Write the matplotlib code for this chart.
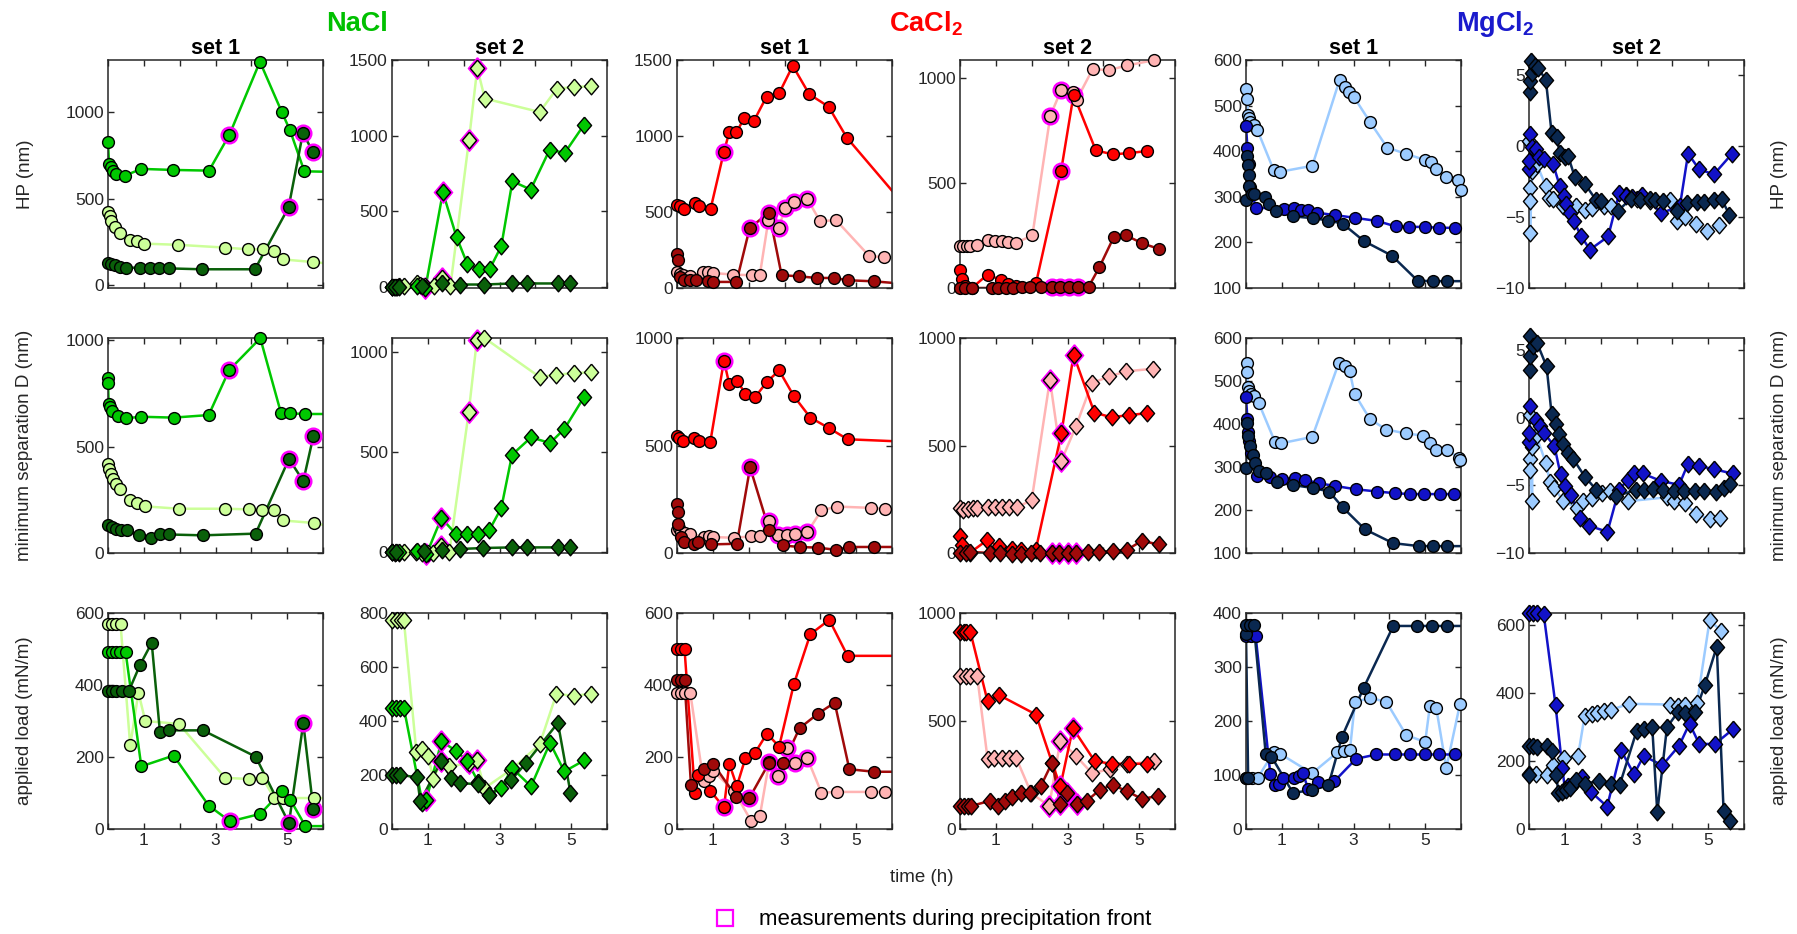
import matplotlib
matplotlib.use('Agg')
import matplotlib.pyplot as plt
from matplotlib.lines import Line2D

plt.rcParams['font.family'] = ['Liberation Sans', 'DejaVu Sans']
plt.rcParams['mathtext.fontset'] = 'custom'
plt.rcParams['mathtext.rm'] = 'Liberation Sans'
plt.rcParams['mathtext.bf'] = 'Liberation Sans:bold'

# ---------------- data: (time h, value) ----------------
# HP (nm)
hp_na1_mid = [(0,826),(0.03,700),(0.08,680),(0.14,660),(0.23,640),(0.47,633),(0.93,672),(1.8,666),(2.82,662),(3.39,870),(4.24,1290),(4.85,1000),(5.08,894),(5.48,658),(6.2,655)]
hp_na1_light = [(0,421),(0.05,400),(0.09,373),(0.19,334),(0.33,300),(0.6,260),(0.8,257),(1.0,241),(1.96,234),(3.27,218),(3.92,208),(4.32,208),(4.63,199),(4.87,150),(5.71,135),(6.2,125)]
hp_na1_dark = [(0,127),(0.09,122),(0.19,115),(0.33,108),(0.5,102),(0.89,102),(1.18,98),(1.43,98),(1.71,98),(2.61,93),(4.1,93),(5.04,450),(5.44,880),(5.71,772)]
hp_na2_mid = [(0,0),(0.05,0),(0.15,0),(0.7,5),(0.93,-10),(1.42,625),(1.8,330),(2.1,152),(2.43,119),(2.73,119),(3.05,269),(3.36,698),(3.87,643),(4.4,907),(4.82,885),(5.36,1072)]
hp_na2_light = [(0,0),(0.1,0),(0.19,4),(0.33,4),(0.7,26),(0.79,9),(0.93,4),(1.17,4),(1.4,60),(1.63,4),(2.15,974),(2.38,1447),(2.59,1245),(4.12,1156),(4.6,1310),(5.08,1322),(5.55,1326)]
hp_na2_dark = [(0,0),(0.08,0),(0.2,0),(0.85,5),(1.4,26),(1.91,15),(2.57,15),(3.36,22),(3.78,22),(4.64,22),(4.97,22)]
hp_ca1_mid = [(0,545),(0.07,538),(0.19,523),(0.49,556),(0.6,540),(0.94,523),(1.31,897),(1.46,1026),(1.66,1024),(1.88,1121),(2.15,1101),(2.5,1259),(2.85,1281),(3.23,1462),(3.69,1275),(4.23,1193),(4.74,989),(6.2,585)]
hp_ca1_light = [(0,105),(0.07,95),(0.17,84),(0.35,77),(0.73,105),(0.87,105),(1.0,99),(1.57,88),(2.08,84),(2.31,84),(2.55,446),(2.85,396),(3.01,527),(3.27,563),(3.64,585),(3.99,440),(4.44,446),(5.37,209),(5.79,204)]
hp_ca1_dark = [(0,226),(0.03,182),(0.07,75),(0.2,51),(0.35,51),(0.54,51),(0.87,44),(1.0,40),(1.66,40),(2.03,396),(2.57,495),(2.92,84),(3.4,77),(3.9,66),(4.39,66),(4.76,51),(5.49,44),(6.2,30)]
hp_ca2_mid = [(0,86),(0.05,43),(0.14,11),(0.33,0),(0.77,64),(1.14,38),(1.35,19),(1.57,11),(2.12,22),(2.82,556),(3.17,920),(3.79,655),(4.26,636),(4.73,642),(5.22,652)]
hp_ca2_light = [(0,202),(0.09,202),(0.2,198),(0.28,198),(0.47,205),(0.77,229),(0.98,223),(1.17,223),(1.35,219),(1.57,216),(2.02,250),(2.52,819),(2.82,941),(3.14,932),(3.26,897),(3.7,1041),(4.16,1037),(4.66,1059),(5.41,1084)]
hp_ca2_dark = [(0,0),(0.14,0),(0.33,0),(0.89,0),(1.07,0),(1.28,0),(1.49,0),(1.72,3),(1.94,3),(2.27,3),(2.56,3),(2.79,3),(3.03,6),(3.28,6),(3.59,6),(3.89,99),(4.29,242),(4.64,250),(5.08,213),(5.55,186)]
hp_mg1_mid = [(0,456),(0.04,407),(0.07,373),(0.11,322),(0.28,276),(1.05,274),(1.34,276),(1.53,272),(1.72,270),(1.99,265),(2.47,260),(3.03,254),(3.66,247),(4.18,235),(4.56,234),(4.99,234),(5.39,232),(5.84,232)]
hp_mg1_light = [(0.01,537),(0.04,515),(0.05,480),(0.08,473),(0.11,465),(0.21,458),(0.32,446),(0.77,359),(0.96,355),(1.85,368),(2.61,556),(2.75,541),(2.88,530),(3.01,519),(3.47,463),(3.94,408),(4.47,394),(4.99,381),(5.15,376),(5.3,362),(5.59,344),(5.93,337),(6.0,316)]
hp_mg1_dark = [(0,294),(0.02,390),(0.05,370),(0.07,348),(0.09,323),(0.16,307),(0.21,307),(0.54,300),(0.65,285),(0.85,269),(1.32,257),(1.88,253),(2.3,248),(2.7,241),(3.29,203),(4.07,171),(4.79,116),(5.22,115),(5.62,115),(6.2,115)]
hp_mg2_mid = [(0.0,-1.65),(0.0,-1.06),(0.02,0.83),(0.07,-0.1),(0.19,-0.24),(0.28,-0.78),(0.41,-0.9),(0.67,-1.25),(0.86,-2.83),(0.97,-3.54),(1.04,-4.08),(1.14,-4.72),(1.25,-5.3),(1.46,-6.37),(1.7,-7.3),(2.21,-6.37),(2.52,-3.3),(2.71,-3.5),(2.87,-3.6),(3.16,-3.42),(3.69,-4.72),(4.21,-4.25),(4.44,-0.54),(4.75,-1.65),(5.16,-2.0),(5.67,-0.54)]
hp_mg2_light = [(0.0,0.35),(0.02,-2.95),(0.02,-3.9),(0.03,-6.13),(0.09,-1.77),(0.22,-1.3),(0.47,-2.83),(0.56,-3.66),(0.67,-3.77),(0.95,-4.25),(1.32,-4.25),(1.56,-4.48),(1.75,-4.36),(2.09,-4.25),(2.3,-4.25),(2.72,-3.42),(3.0,-3.77),(3.37,-3.9),(3.94,-3.84),(4.12,-5.3),(4.35,-5.02),(4.66,-5.5),(4.98,-6.01),(5.31,-5.54)]
hp_mg2_dark = [(0.02,3.77),(0.02,4.6),(0.05,6.0),(0.09,5.1),(0.16,5.66),(0.25,5.5),(0.47,4.65),(0.63,0.94),(0.77,0.6),(0.86,-0.47),(1.0,-0.8),(1.09,-0.7),(1.28,-2.2),(1.56,-2.67),(1.88,-3.84),(2.02,-3.9),(2.49,-4.55),(2.85,-3.7),(3.1,-3.8),(3.38,-3.7),(3.52,-3.8),(3.75,-3.9),(4.12,-4.55),(4.42,-4.0),(4.68,-3.96),(4.88,-3.96),(5.16,-3.8),(5.38,-3.77),(5.59,-4.83)]

# minimum separation D (nm)
dmin_na1_mid = [(0,822),(0.0,800),(0.02,700),(0.05,684),(0.1,665),(0.27,645),(0.49,633),(0.93,640),(1.83,636),(2.81,648),(3.38,859),(4.25,1009),(4.83,656),(5.07,656),(5.51,653),(6.2,653)]
dmin_na1_light = [(0,419),(0.03,395),(0.08,372),(0.14,348),(0.22,325),(0.33,302),(0.6,247),(0.82,234),(1.04,219),(1.98,208),(3.27,208),(3.93,205),(4.31,200),(4.64,200),(4.87,153),(5.75,141),(6.2,125)]
dmin_na1_dark = [(0,130),(0.11,122),(0.22,114),(0.36,109),(0.52,106),(0.87,83),(1.2,72),(1.45,87),(1.69,87),(2.65,83),(4.12,91),(5.05,442),(5.45,338),(5.73,548)]
dmin_na2_mid = [(0,0),(0.1,0),(0.2,0),(0.7,5),(0.96,-10),(1.38,172),(1.78,92),(2.09,92),(2.41,92),(2.72,113),(3.05,222),(3.35,488),(3.88,575),(4.41,547),(4.81,617),(5.36,777)]
dmin_na2_light = [(0,0),(0.08,-3),(0.19,-3),(0.33,0),(0.68,0),(0.85,-3),(1.01,-3),(1.15,-3),(1.38,30),(1.6,0),(2.14,700),(2.37,1063),(2.58,1072),(4.12,877),(4.59,888),(5.07,897),(5.55,900)]
dmin_na2_dark = [(0,0),(0.1,0),(0.9,5),(1.4,10),(1.89,17),(2.55,22),(3.36,25),(3.77,25),(4.63,25),(4.98,25)]
dmin_ca1_mid = [(0,542),(0.05,537),(0.18,522),(0.48,537),(0.62,519),(0.93,517),(1.31,895),(1.46,784),(1.67,802),(1.91,741),(2.18,725),(2.51,796),(2.85,849),(3.26,730),(3.72,630),(4.25,580),(4.76,529),(6.2,519)]
dmin_ca1_light = [(0,105),(0.05,117),(0.1,97),(0.21,93),(0.37,90),(0.74,74),(0.9,77),(1.01,74),(1.59,71),(2.07,77),(2.31,79),(2.57,151),(2.83,85),(3.06,86),(3.29,90),(3.64,97),(4.03,198),(4.46,216),(5.41,210),(5.81,205)]
dmin_ca1_dark = [(0,228),(0.02,190),(0.02,136),(0.1,74),(0.19,51),(0.48,43),(0.58,51),(0.96,40),(1.67,43),(2.04,398),(2.57,108),(2.95,35),(3.42,28),(3.93,25),(4.43,15),(4.81,28),(5.5,28),(6.2,28)]
dmin_ca2_mid = [(0,78),(0.05,36),(0.27,0),(0.75,59),(1.1,31),(1.44,20),(1.71,15),(2.11,12),(2.83,557),(3.17,922),(3.75,653),(4.23,631),(4.73,642),(5.21,650)]
dmin_ca2_light = [(0,207),(0.09,200),(0.21,203),(0.37,207),(0.48,211),(0.78,215),(0.99,215),(1.17,215),(1.37,215),(1.58,212),(2.0,246),(2.51,806),(2.83,429),(3.24,591),(3.68,790),(4.16,821),(4.64,845),(5.39,857)]
dmin_ca2_dark = [(0,0),(0.16,0),(0.27,5),(0.85,0),(1.12,0),(1.44,-3),(1.71,-3),(1.97,0),(2.22,0),(2.56,0),(2.77,0),(3.01,0),(3.25,0),(3.57,5),(3.89,5),(4.26,9),(4.67,16),(5.07,56),(5.55,40)]
dmin_mg1_mid = [(0,462),(0.04,411),(0.05,381),(0.08,360),(0.13,333),(0.3,280),(0.68,277),(1.0,272),(1.36,274),(1.66,270),(2.04,262),(2.48,256),(3.08,248),(3.66,243),(4.17,239),(4.58,237),(4.98,237),(5.41,237),(5.81,237)]
dmin_mg1_light = [(0.02,542),(0.04,520),(0.05,485),(0.08,477),(0.13,470),(0.22,464),(0.35,450),(0.81,358),(0.97,355),(1.85,370),(2.59,542),(2.75,534),(2.89,524),(3.03,470),(3.46,411),(3.92,387),(4.47,378),(4.94,373),(5.14,356),(5.29,340),(5.6,340),(5.95,321),(5.98,316)]
dmin_mg1_dark = [(0,298),(0.02,403),(0.05,372),(0.11,348),(0.19,329),(0.24,309),(0.35,290),(0.57,286),(0.87,264),(1.31,258),(1.88,251),(2.32,243),(2.7,206),(3.32,155),(4.1,123),(4.83,116),(5.22,116),(5.6,116),(6.2,116)]
dmin_mg2_mid = [(0.0,-1.8),(0.0,-1.09),(0.03,0.85),(0.2,-0.17),(0.31,-0.6),(0.41,-1.09),(0.71,-2.1),(0.88,-4.19),(1.01,-5.08),(1.17,-5.69),(1.42,-7.38),(1.68,-7.99),(2.19,-8.43),(2.51,-5.33),(2.75,-4.6),(2.92,-4.12),(3.17,-4.12),(3.68,-4.67),(4.19,-4.96),(4.44,-3.39),(4.74,-3.56),(5.15,-3.8),(5.68,-4.12)]
dmin_mg2_light = [(0.03,0.24),(0.03,-3.03),(0.03,-3.87),(0.09,-6.17),(0.09,-2.18),(0.2,-1.33),(0.47,-3.32),(0.58,-4.72),(0.71,-5.2),(0.96,-6.17),(1.34,-6.66),(1.5,-6.17),(1.77,-5.93),(2.05,-5.57),(2.27,-5.45),(2.76,-6.17),(3.85,-5.88),(4.06,-6.17),(4.34,-6.3),(4.66,-7.09),(5.04,-7.5),(5.32,-7.38)]
dmin_mg2_dark = [(0.03,3.5),(0.03,4.6),(0.03,6.05),(0.12,5.3),(0.23,5.5),(0.49,3.8),(0.63,0.31),(0.74,-0.48),(0.85,-1.21),(0.96,-1.94),(1.1,-2.59),(1.23,-3.03),(1.56,-4.36),(1.88,-5.33),(2.43,-5.81),(2.98,-5.33),(3.2,-5.33),(3.47,-5.25),(3.74,-5.33),(4.06,-5.45),(4.33,-5.4),(4.63,-5.45),(4.88,-5.45),(5.21,-5.5),(5.43,-5.16),(5.61,-4.92)]

# applied load (mN/m)
load_na1_mid = [(0,492),(0.11,492),(0.22,492),(0.33,492),(0.49,492),(0.93,174),(1.83,204),(2.81,65),(3.41,21),(4.25,42),(4.85,105),(5.09,81),(5.51,8),(6.2,8)]
load_na1_light = [(0,569),(0.11,569),(0.22,569),(0.35,569),(0.62,232),(0.85,379),(1.04,300),(1.98,292),(3.27,142),(3.93,139),(4.31,142),(4.64,86),(4.87,86),(5.75,86),(6.2,86)]
load_na1_dark = [(0,383),(0.11,383),(0.22,383),(0.38,383),(0.58,383),(0.89,455),(1.22,517),(1.45,269),(1.69,274),(2.65,274),(4.12,201),(5.05,16),(5.45,294),(5.73,56)]
load_na2_mid = [(0,449),(0.11,449),(0.22,449),(0.33,449),(0.85,96),(0.96,108),(1.38,325),(1.78,290),(2.09,253),(2.41,174),(2.72,127),(3.05,151),(3.35,226),(3.88,158),(4.41,319),(4.81,213),(5.36,254)]
load_na2_light = [(0,775),(0.13,775),(0.24,775),(0.33,775),(0.68,286),(0.85,295),(1.01,270),(1.15,186),(1.38,251),(1.6,232),(2.14,244),(2.37,254),(2.58,151),(3.33,220),(4.12,313),(4.59,501),(5.07,493),(5.55,501)]
load_na2_dark = [(0,201),(0.11,201),(0.22,201),(0.7,191),(0.79,102),(1.37,251),(1.65,189),(1.89,170),(2.39,166),(2.72,127),(3.33,182),(3.74,244),(4.63,393),(4.98,135)]
load_ca1_mid = [(0,499),(0.11,499),(0.21,499),(0.5,101),(0.58,150),(0.93,106),(1.31,60),(1.46,181),(1.67,119),(1.91,197),(2.18,212),(2.51,265),(2.85,229),(3.26,402),(3.72,541),(4.25,581),(4.76,481),(6.2,481)]
load_ca1_light = [(0,378),(0.11,378),(0.21,378),(0.37,378),(0.74,132),(0.9,146),(1.01,161),(1.59,106),(2.07,22),(2.31,35),(2.57,185),(2.83,148),(3.06,225),(3.29,184),(3.64,196),(4.03,101),(4.46,103),(5.41,103),(5.81,103)]
load_ca1_dark = [(0,413),(0.11,413),(0.21,413),(0.39,122),(0.74,168),(1.01,181),(1.65,90),(2.02,86),(2.57,184),(2.97,184),(3.42,280),(3.93,320),(4.4,351),(4.81,166),(5.5,159),(6.2,159)]
load_ca2_mid = [(0,912),(0.1,912),(0.18,912),(0.29,912),(0.77,591),(1.09,620),(2.12,530),(2.57,307),(2.8,197),(3.15,467),(3.76,314),(4.23,302),(4.71,302),(5.21,302)]
load_ca2_light = [(0,708),(0.16,708),(0.29,708),(0.48,708),(0.77,324),(0.95,328),(1.16,328),(1.38,328),(1.57,328),(1.99,165),(2.49,107),(2.8,409),(3.23,340),(3.68,258),(4.18,277),(4.66,299),(5.4,314)]
load_ca2_dark = [(0,107),(0.1,107),(0.21,107),(0.32,107),(0.85,131),(1.06,107),(1.25,131),(1.45,150),(1.69,168),(1.96,165),(2.25,197),(2.57,307),(2.8,117),(2.99,165),(3.27,117),(3.54,131),(3.91,182),(4.26,204),(4.66,175),(5.08,139),(5.52,153)]
load_mg1_mid = [(0,357),(0.14,357),(0.27,357),(0.68,101),(0.82,81),(0.93,84),(1.04,94),(1.35,94),(1.48,99),(1.59,103),(1.73,75),(2.02,87),(2.46,88),(3.07,130),(3.64,138),(4.16,138),(4.57,138),(5.0,138),(5.39,138),(5.83,138)]
load_mg1_light = [(0,95),(0.16,95),(0.33,95),(0.77,142),(0.96,139),(1.84,103),(2.55,142),(2.74,145),(2.9,146),(3.04,235),(3.47,243),(3.92,235),(4.47,174),(5.0,161),(5.13,227),(5.31,224),(5.59,113),(5.97,231)]
load_mg1_dark = [(0,95),(0.06,95),(0.0,362),(0.0,377),(0.11,377),(0.22,377),(0.55,139),(0.71,134),(1.31,67),(1.84,72),(2.3,81),(2.68,171),(3.28,261),(4.11,376),(4.78,376),(5.18,376),(5.62,376),(6.2,376)]
load_mg2_mid = [(0,635),(0.11,635),(0.22,635),(0.41,632),(0.74,364),(0.93,180),(1.0,119),(1.1,125),(1.2,130),(1.3,140),(1.48,152),(1.72,110),(2.18,66),(2.57,231),(2.93,161),(3.2,215),(3.72,187),(4.19,245),(4.48,310),(4.75,250),(5.19,250),(5.7,294)]
load_mg2_light = [(0,161),(0.2,161),(0.49,159),(0.68,187),(0.98,210),(1.37,215),(1.55,331),(1.75,338),(1.91,342),(2.1,346),(2.29,350),(2.78,368),(3.93,366),(4.15,362),(4.36,364),(4.69,371),(5.04,613),(5.37,582)]
load_mg2_dark = [(0,160),(0.0,243),(0.1,243),(0.22,240),(0.49,243),(0.65,228),(0.76,160),(0.82,107),(0.93,110),(1.04,115),(1.15,120),(1.31,143),(1.55,133),(1.94,141),(2.29,131),(2.53,129),(3.0,287),(3.22,294),(3.44,299),(3.58,49),(3.85,299),(4.15,343),(4.36,340),(4.64,343),(4.91,424),(5.24,536),(5.43,54),(5.62,23)]

# indices of measurements during precipitation front
front = {
    'hp_na1_mid': [9], 'hp_na1_dark': [11, 12, 13],
    'hp_na2_mid': [4, 5], 'hp_na2_light': [8, 10, 11],
    'hp_ca1_mid': [6], 'hp_ca1_light': [10, 11, 12, 13, 14], 'hp_ca1_dark': [9, 10],
    'hp_ca2_mid': [9, 10], 'hp_ca2_light': [11, 12], 'hp_ca2_dark': [10, 11, 12, 13],
    'dmin_na1_mid': [10], 'dmin_na1_dark': [11, 12, 13],
    'dmin_na2_mid': [4, 5], 'dmin_na2_light': [8, 10, 11],
    'dmin_ca1_mid': [6], 'dmin_ca1_light': [11, 12, 13, 14, 15], 'dmin_ca1_dark': [9],
    'dmin_ca2_mid': [8, 9], 'dmin_ca2_light': [11, 12], 'dmin_ca2_dark': [9, 10, 11, 12],
    'load_na1_mid': [8], 'load_na1_dark': [11, 12, 13],
    'load_na2_mid': [5, 6, 8], 'load_na2_light': [8, 10, 11],
    'load_ca1_mid': [6], 'load_ca1_light': [10, 11, 12, 13, 14], 'load_ca1_dark': [7],
    'load_ca2_mid': [8, 9], 'load_ca2_light': [10, 11], 'load_ca2_dark': [12, 13, 14],
}

quantities = ['hp', 'dmin', 'load']
salts = ['na', 'ca', 'mg']
ylabels = ['HP (nm)', 'minimum separation D (nm)', 'applied load (mN/m)']
salt_names = ['NaCl', r'CaCl$_\mathbf{2}$', r'MgCl$_\mathbf{2}$']
salt_colors = ['#00C000', '#FF0000', '#1A1ACC']
shades = {
    'na': {'mid': '#00C800', 'light': '#CCFF99', 'dark': '#0A600A'},
    'ca': {'mid': '#FF0000', 'light': '#FFB4B4', 'dark': '#A00A0A'},
    'mg': {'mid': '#1212C8', 'light': '#9CCBFF', 'dark': '#0A2850'},
}
ylims = [
    [(-15, 1300), (-8, 1500), (0, 1500), (0, 1085), (100, 600), (-10, 6.05)],
    [(0, 1010), (-3, 1072), (0, 1000), (0, 1000), (100, 600), (-10, 5.9)],
    [(0, 600), (0, 800), (0, 600), (0, 1000), (0, 400), (0, 635)],
]
yticks = [
    [[0, 500, 1000], [0, 500, 1000, 1500], [0, 500, 1000, 1500], [0, 500, 1000], range(100, 601, 100), [-10, -5, 0, 5]],
    [[0, 500, 1000], [0, 500, 1000], [0, 500, 1000], [0, 500, 1000], range(100, 601, 100), [-10, -5, 0, 5]],
    [range(0, 601, 200), range(0, 801, 200), range(0, 601, 200), [0, 500, 1000], range(0, 401, 100), range(0, 601, 200)],
]

W, H = 1797, 934
col_left = [108, 392, 677, 960, 1246, 1529]
col_w = 215
row_top = [60, 338, 613]
row_bot = [288, 553, 829]

diamond = [(0, 1), (0.85, 0), (0, -1), (-0.85, 0), (0, 1)]
fig = plt.figure(figsize=(W / 100, H / 100), dpi=100)
tc = '#262626'


def draw(ax, name, color, marker, ms):
    pts = globals()[name]
    t = [p[0] for p in pts]
    v = [p[1] for p in pts]
    ax.plot(t, v, '-', color=color, lw=1.8, zorder=2)
    tm = [a for a in t if a <= 6.05]
    vm = [b for a, b in zip(t, v) if a <= 6.05]
    idx = front.get(name, [])
    if idx:
        ax.plot([t[i] for i in idx], [v[i] for i in idx], ls='none', marker=marker,
                ms=ms + 3.5, mfc='#FF00FF', mec='#FF00FF', zorder=3, clip_on=False)
    ax.plot(tm, vm, ls='none', marker=marker, ms=ms, mfc=color, mec='black',
            mew=1.0, zorder=4, clip_on=False)


for r, q in enumerate(quantities):
    for c in range(6):
        salt = salts[c // 2]
        s = c % 2 + 1
        ax = fig.add_axes([col_left[c] / W, 1 - row_bot[r] / H, col_w / W,
                           (row_bot[r] - row_top[r]) / H])
        if s == 1 or (r == 0 and c == 3):
            marker, ms = 'o', 8.5
        else:
            marker, ms = diamond, 12
        for shade in ['light', 'mid', 'dark']:
            draw(ax, '%s_%s%d_%s' % (q, salt, s, shade), shades[salt][shade], marker, ms)
        ax.set_xlim(0, 6)
        ax.set_ylim(*ylims[r][c])
        ax.set_yticks(list(yticks[r][c]))
        ax.set_xticks(range(7))
        if r == 2:
            ax.set_xticklabels(['', '1', '', '3', '', '5', ''])
        else:
            ax.set_xticklabels([])
        ax.tick_params(direction='in', top=True, right=True, length=4, width=1,
                       labelsize=12.5, colors=tc, pad=3)
        for sp in ax.spines.values():
            sp.set_color(tc)
            sp.set_linewidth(1.1)
        if r == 0:
            ax.set_title('set %d' % s, fontsize=15.5, fontweight='bold', pad=4)

for k in range(3):
    cx = (col_left[2 * k] + col_left[2 * k + 1] + col_w) / 2 / W
    fig.text(cx, 1 - 24 / H, salt_names[k], fontsize=19.5, fontweight='bold',
             color=salt_colors[k], ha='center', va='center')

for r in range(3):
    cy = 1 - (row_top[r] + row_bot[r]) / 2 / H
    fig.text(25 / W, cy, ylabels[r], rotation=90, fontsize=13.5, ha='center', va='center', color=tc)
    fig.text(1780 / W, cy, ylabels[r], rotation=90, fontsize=13.5, ha='center', va='center', color=tc)

fig.text(922 / W, 1 - 877 / H, 'time (h)', fontsize=13.5, ha='center', va='center', color=tc)

handle = Line2D([], [], ls='none', marker='s', ms=11, mfc='none', mec='#FF00FF', mew=1.6)
fig.legend([handle], ['measurements during precipitation front'], loc='center',
           bbox_to_anchor=(927 / W, 1 - 920 / H), frameon=False, fontsize=16,
           handletextpad=0.5)

fig.savefig('out.png', dpi=100)
